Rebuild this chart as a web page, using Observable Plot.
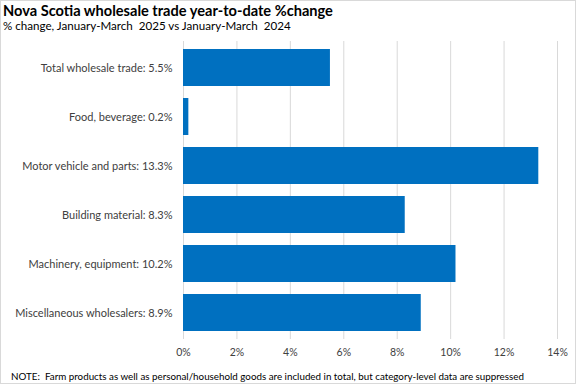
<!DOCTYPE html>
<html>
<head>
<meta charset="utf-8">
<script src="https://cdn.jsdelivr.net/npm/d3@7"></script>
<script src="https://cdn.jsdelivr.net/npm/@observablehq/plot@0.6"></script>
<style>
  html, body { margin: 0; padding: 0; background: #fff; }
  #wrap { position: relative; width: 576px; height: 384px; overflow: hidden; font-family: Lato, "Open Sans", sans-serif; color: #000; }
  #border { position: absolute; left: 0; top: 0; width: 576px; height: 384px; box-sizing: border-box; border: 1px solid #d9d9d9; pointer-events: none; }
  #title { position: absolute; left: 3px; top: 2px; font-size: 14.6px; font-weight: bold; white-space: nowrap; }
  #subtitle { position: absolute; left: 3px; top: 19px; font-size: 11.6px; white-space: nowrap; }
  #note { position: absolute; left: 11px; top: 370px; font-size: 9.8px; white-space: nowrap; }
  #chart { position: absolute; left: 0; top: 0; }
</style>
</head>
<body>
<div id="wrap">
  <div id="chart"></div>
  <div id="title">Nova Scotia wholesale trade year-to-date %change</div>
  <div id="subtitle">% change, January-March&nbsp; 2025 vs January-March&nbsp; 2024</div>
  <div id="note">NOTE:&nbsp; Farm products as well as personal/household goods are included in total, but category-level data are suppressed</div>
  <div id="border"></div>
</div>
<script>
const categories = [
  "Total wholesale trade",
  "Food, beverage",
  "Motor vehicle and parts",
  "Building material",
  "Machinery, equipment",
  "Miscellaneous wholesalers"
];
const values = [5.5, 0.2, 13.3, 8.3, 10.2, 8.9];
const xTicks = [0, 2, 4, 6, 8, 10, 12, 14];

const data = categories.map((c, i) => ({label: `${c}: ${values[i]}%`, value: values[i]}));
const order = data.map(d => d.label);

const chart = Plot.plot({
  width: 576,
  height: 384,
  marginTop: 41,
  marginBottom: 45,
  marginLeft: 183,
  marginRight: 19,
  style: {fontFamily: "Lato, 'Open Sans', sans-serif", fontSize: "11px", color: "#000", background: "transparent"},
  x: {domain: [0, 14], ticks: xTicks, tickFormat: d => d + "%", label: null},
  y: {domain: order, paddingInner: 0.24, paddingOuter: 0.12, label: null},
  marks: [
    Plot.gridX(xTicks, {stroke: "#d9d9d9", strokeOpacity: 1, strokeWidth: 1}),
    Plot.barX(data, {x: "value", y: "label", fill: "#0070C0"}),
    Plot.axisX({ticks: xTicks, tickFormat: d => d + "%", tickSize: 0, tickPadding: 9, fontSize: 10.5, fill: "#404040", label: null}),
    Plot.axisY({tickSize: 0, tickPadding: 11, fontSize: 11, fill: "#404040", label: null})
  ]
});
document.getElementById("chart").appendChild(chart);
</script>
</body>
</html>
